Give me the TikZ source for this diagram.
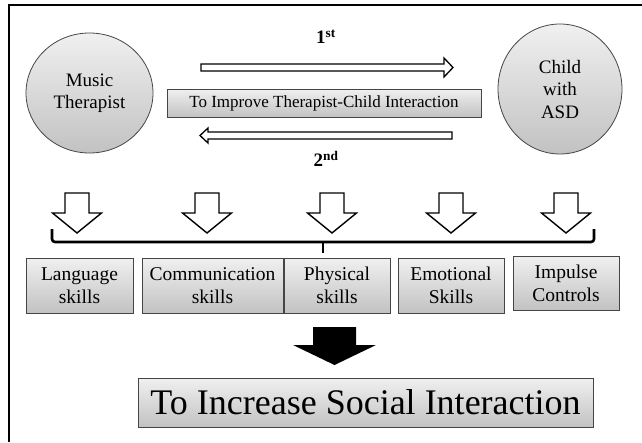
\documentclass[tikz,border=0pt]{standalone}
\usepackage{fontspec}
\setmainfont{Liberation Serif}
\usetikzlibrary{shapes.geometric,shadows}

\definecolor{edgegray}{HTML}{454545}
\definecolor{filltop}{HTML}{F0F0F0}
\definecolor{fillbot}{HTML}{C2C2C2}

\tikzset{
  frameline/.style={line width=1.1pt, black},
  bubble/.style={ellipse, draw=edgegray, line width=0.8pt, top color=filltop, bottom color=fillbot,
    inner sep=0pt, align=center, font=\fontsize{19}{22.5}\selectfont},
  skillbox/.style={rectangle, draw=edgegray, line width=0.9pt, top color=filltop, bottom color=fillbot,
    inner sep=0pt, align=center, font=\fontsize{19.5}{23}\selectfont,
    drop shadow={opacity=0.25, shadow xshift=1.2pt, shadow yshift=-1.2pt}},
  hollow/.style={draw=black, fill=white, line width=1.3pt, line join=miter},
  downarrow/.style={draw=black, fill=white, line width=1.4pt, line join=miter},
  brace/.style={line width=2.6pt, black, rounded corners=3pt},
  ordinal/.style={font=\fontsize{19}{22}\selectfont\bfseries, inner sep=0pt},
}

\begin{document}
\begin{tikzpicture}[x=1pt, y=-1pt]
  \useasboundingbox (0,0) rectangle (642,442);

  % page frame: top and left rules
  \coordinate (fl) at (9,442);
  \coordinate (fc) at (9,5);
  \coordinate (fr) at (642,5);
  \draw[frameline] (fl) -- (fc) -- (fr);

  % the two participants
  \node[bubble, minimum width=127pt, minimum height=120pt] (mt) at (89.5,93) {Music\\Therapist};
  \node[bubble, minimum width=124pt, minimum height=130pt] (child) at (560,89) {Child\\with\\ASD};

  % central aim
  \node[skillbox, minimum width=314pt, minimum height=28pt, font=\fontsize{17}{20}\selectfont] (aim) at (324,103)
    {To Improve Therapist-Child Interaction};

  % order labels
  \node[ordinal] (first) at (326,37) {1\textsuperscript{st}};
  \node[ordinal] (second) at (326,159) {2\textsuperscript{nd}};

  % hollow arrow: therapist -> child
  \draw[hollow] (201,64) -- (444,64) -- (444,58) -- (453,67.5) -- (444,77) -- (444,71) -- (201,71) -- cycle;
  % hollow arrow: child -> therapist
  \draw[hollow] (452,132) -- (208,132) -- (208,128) -- (200,135.5) -- (208,143) -- (208,139) -- (452,139) -- cycle;

  % five open down arrows
  \foreach \cx in {77,207,332,451,566} {
    \draw[downarrow] (\cx-12,193) -- (\cx+12,193) -- (\cx+12,213) -- (\cx+24.5,213) -- (\cx,233)
      -- (\cx-24.5,213) -- (\cx-12,213) -- cycle;
  }

  % bracket gathering the arrows
  \coordinate (bl) at (52,229);
  \coordinate (br) at (594,229);
  \coordinate (bm) at (323,242);
  \coordinate (bt) at (323,253);
  \draw[brace] (bl) -- (52,242) -- (594,242) -- (br);
  \draw[line width=2.8pt] (bm) -- (bt);

  % skill areas
  \node[skillbox, minimum width=107pt, minimum height=55pt] (lang) at (79.5,285.5) {Language\\skills};
  \node[skillbox, minimum width=141pt, minimum height=55pt] (comm) at (212.5,285.5) {Communication\\skills};
  \node[skillbox, minimum width=106pt, minimum height=55pt] (phys) at (337,285.5) {Physical\\skills};
  \node[skillbox, minimum width=106pt, minimum height=55pt] (emo) at (451,285.5) {Emotional\\Skills};
  \node[skillbox, minimum width=106pt, minimum height=54pt] (imp) at (566,283) {Impulse\\Controls};

  % solid arrow to the outcome
  \fill[black] (313,327) -- (356,327) -- (356,345) -- (376,345) -- (334.5,365) -- (293,345) -- (313,345) -- cycle;

  % outcome
  \node[skillbox, minimum width=455pt, minimum height=49pt, font=\fontsize{36}{42}\selectfont] (goal) at (365.5,402.5)
    {To Increase Social Interaction};
\end{tikzpicture}
\end{document}
